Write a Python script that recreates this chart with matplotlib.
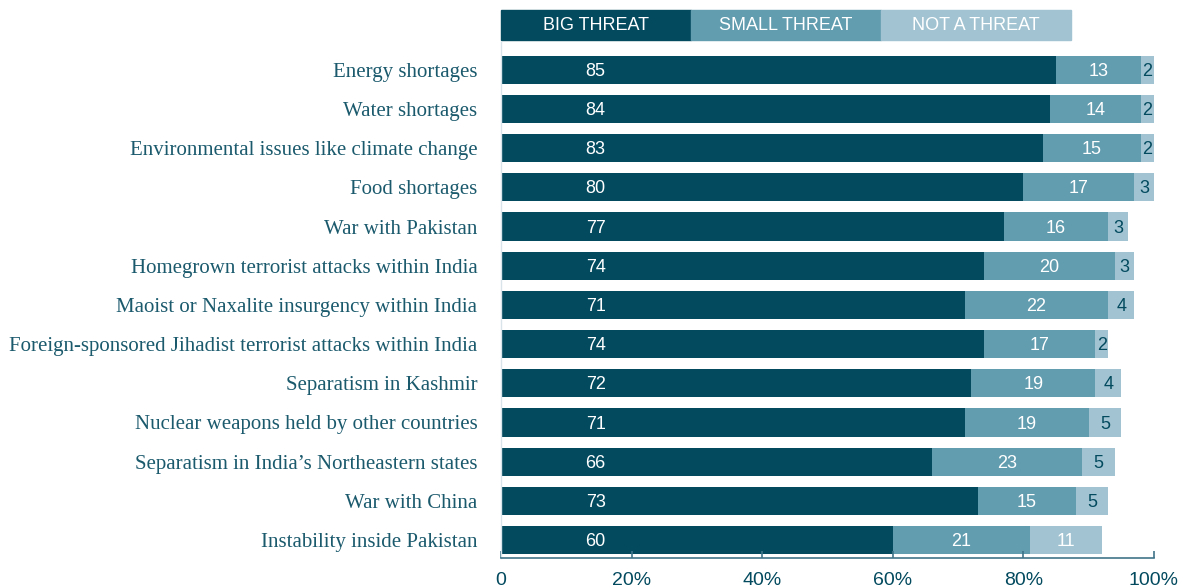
import matplotlib
matplotlib.use('Agg')
import matplotlib.pyplot as plt
import matplotlib.transforms as mtransforms
import numpy as np

topics = ['Energy shortages', 'Water shortages',
          'Environmental issues like climate change', 'Food shortages',
          'War with Pakistan', 'Homegrown terrorist attacks within India',
          'Maoist or Naxalite insurgency within India',
          'Foreign-sponsored Jihadist terrorist attacks within India',
          'Separatism in Kashmir', 'Nuclear weapons held by other countries',
          "Separatism in India\u2019s Northeastern states", 'War with China',
          'Instability inside Pakistan']
big = [85, 84, 83, 80, 77, 74, 71, 74, 72, 71, 66, 73, 60]
small = [13, 14, 15, 17, 16, 20, 22, 17, 19, 19, 23, 15, 21]
not_threat = [2, 2, 2, 3, 3, 3, 4, 2, 4, 5, 5, 5, 11]
series_names = ['BIG THREAT', 'SMALL THREAT', 'NOT A THREAT']
ticks = [0, 20, 40, 60, 80, 100]
tick_labels = ['0', '20%', '40%', '60%', '80%', '100%']

c_big = '#034a5f'
c_small = '#619caf'
c_not = '#a2c4d2'
c_text = '#1b5a6d'
sans = 'Liberation Sans'
serif = 'Liberation Serif'

fig = plt.figure(figsize=(11.81, 5.87), dpi=100)
ax = fig.add_axes([501/1181, 1 - 558/587, 653/1181, (558 - 42)/587])

y = np.arange(len(topics))
h = 0.72
big = np.array(big)
small = np.array(small)
not_threat = np.array(not_threat)

ax.barh(y, big, height=h, color=c_big)
ax.barh(y, small, left=big, height=h, color=c_small)
ax.barh(y, not_threat, left=big + small, height=h, color=c_not)

for i in range(len(topics)):
    yy = y[i] + 0.04
    ax.text(14.5, yy, str(big[i]), ha='center', va='center',
            color='white', fontsize=13, family=sans)
    ax.text(big[i] + small[i] / 2, yy, str(small[i]), ha='center',
            va='center', color='white', fontsize=13, family=sans)
    nc = 'white' if not_threat[i] >= 10 else c_big
    ax.text(big[i] + small[i] + not_threat[i] / 2, yy, str(not_threat[i]),
            ha='center', va='center', color=nc, fontsize=13, family=sans)

ax.set_xlim(0, 100)
ax.set_ylim(len(topics) - 1 + 0.46, -0.71)
ax.set_yticks(y)
ax.set_yticklabels(topics, family=serif, fontsize=15, color=c_text)
ax.tick_params(axis='y', length=0, pad=17)
ax.set_xticks(ticks)
ax.set_xticklabels(tick_labels, family=sans, fontsize=14, color=c_big)
ax.tick_params(axis='x', direction='in', length=5, width=1.2,
               color='#3f7489', pad=10)

for s in ['top', 'right']:
    ax.spines[s].set_visible(False)
ax.spines['left'].set_color('#d8e4ea')
ax.spines['left'].set_linewidth(1)
ax.spines['bottom'].set_color('#3f7489')
ax.spines['bottom'].set_linewidth(1.2)

# legend strip above the bars: x in data units, y in figure fraction
trans = mtransforms.blended_transform_factory(ax.transData, fig.transFigure)
w = 29.1
for k, (name, col) in enumerate(zip(series_names, [c_big, c_small, c_not])):
    ax.add_patch(plt.Rectangle((k * w, 1 - 40/587), w, 30/587, color=col,
                               transform=trans, clip_on=False))
    ax.text(k * w + w / 2, 1 - 25/587, name, transform=trans, ha='center',
            va='center', color='white', fontsize=13, family=sans)

plt.savefig('out.png', dpi=100)
